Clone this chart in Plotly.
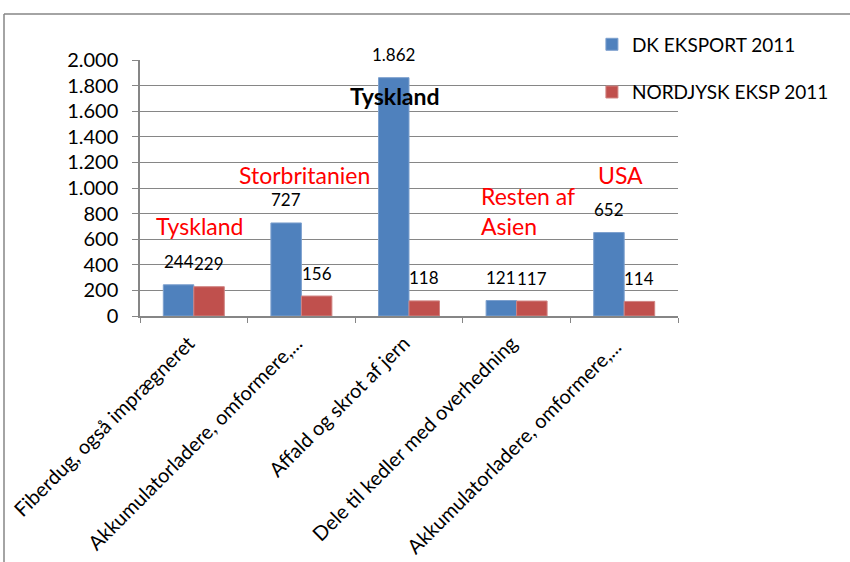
import plotly.graph_objects as go

categories = [
    "Fiberdug, også imprægneret",
    "Akkumulatorladere, omformere,...",
    "Affald og skrot af jern",
    "Dele til kedler med overhedning",
    "Akkumulatorladere, omformere,... ",
]
dk_eksport = [244, 727, 1862, 121, 652]
nordjysk_eksp = [229, 156, 118, 117, 114]
dk_labels = ["244", "727", "1.862", "121", "652"]
nj_labels = ["229", "156", "118", "117", "114"]
series_names = ["DK EKSPORT 2011", "NORDJYSK EKSP 2011"]
y_tickvals = [0, 200, 400, 600, 800, 1000, 1200, 1400, 1600, 1800, 2000]
y_ticktext = ["0", "200", "400", "600", "800", "1.000", "1.200", "1.400", "1.600", "1.800", "2.000"]
# (category, y value, text, colour, bold, horizontal pixel nudge)
country_notes = [
    (categories[0], 703, "Tyskland", "red", False, 6),
    (categories[1], 1102, "Storbritanien", "red", False, 3),
    (categories[2], 1719, "Tyskland", "black", True, -14),
    (categories[3], 820, "Resten af<br>Asien", "red", False, 11),
    (categories[4], 1102, "USA", "red", False, -4),
]

W, H = 850, 562
ML, MR, MT, MB = 140, 172, 60, 246
PW, PH = W - ML - MR, H - MT - MB
FONT = "Lato, Carlito, Calibri, sans-serif"
BLUE, RED = "#4F81BD", "#C0504D"
GRAY = "#868686"

fig = go.Figure()
fig.add_trace(go.Bar(x=categories, y=dk_eksport, name=series_names[0], marker_color=BLUE,
                     marker_line=dict(color="#7DA0CE", width=1), legendgroup="a"))
fig.add_trace(go.Bar(x=categories, y=nordjysk_eksp, name=series_names[1], marker_color=RED,
                     marker_line=dict(color="#D08483", width=1), legendgroup="b"))

bar_px = PW / len(categories) * (1 - 0.433) / 2
for cat, v, t in zip(categories, dk_eksport, dk_labels):
    fig.add_annotation(x=cat, y=v, text=t, showarrow=False, xshift=-bar_px / 2, yshift=23,
                       font=dict(family=FONT, size=17, color="black"))
for cat, v, t in zip(categories, nordjysk_eksp, nj_labels):
    fig.add_annotation(x=cat, y=v, text=t, showarrow=False, xshift=bar_px / 2, yshift=23,
                       font=dict(family=FONT, size=17, color="black"))

for cat, yv, txt, col, bold, nudge in country_notes:
    fig.add_annotation(x=cat, y=yv, text=f"<b>{txt}</b>" if bold else txt, showarrow=False,
                       align="left", xshift=nudge,
                       font=dict(family=FONT, size=23, color=col))

# chart-area border (top and left visible)
x_left = (4 - ML) / PW
y_top = (H - 14 - MB) / PH
y_bot = (0 - MB) / PH
x_right = (W - ML) / PW
fig.add_shape(type="line", xref="paper", yref="paper", x0=x_left, x1=x_right, y0=y_top, y1=y_top,
              line=dict(color=GRAY, width=1.5))
fig.add_shape(type="line", xref="paper", yref="paper", x0=x_left, x1=x_left, y0=y_top, y1=y_bot,
              line=dict(color=GRAY, width=1.5))

fig.update_layout(
    width=W, height=H, margin=dict(l=ML, r=MR, t=MT, b=MB, autoexpand=False),
    paper_bgcolor="white", plot_bgcolor="white",
    barmode="group", bargap=0.433, bargroupgap=0,
    font=dict(family=FONT, size=19, color="black"),
    showlegend=True,
    legend=dict(x=0.84, xanchor="left", y=1.135, yanchor="top", tracegroupgap=20,
                font=dict(family=FONT, size=19, color="black"), itemwidth=30,
                bgcolor="rgba(0,0,0,0)"),
    xaxis=dict(type="category", tickson="boundaries", ticks="outside", ticklen=5, tickcolor=GRAY,
               showline=True, linecolor=GRAY, linewidth=1.5, tickangle=-45, showgrid=False,
               ticklabelshift=-5, ticklabelstandoff=6,
               tickfont=dict(family=FONT, size=20, color="black")),
    yaxis=dict(range=[0, 2000], tickvals=y_tickvals, ticktext=y_ticktext, ticks="outside",
               ticklen=6, tickcolor=GRAY, showline=True, linecolor=GRAY, linewidth=1.5,
               showgrid=True, gridcolor=GRAY, gridwidth=1, zeroline=False,
               tickfont=dict(family=FONT, size=20, color="black"), ticklabelstandoff=10),
)

fig.write_html("out.html", config={"displayModeBar": False},
               post_script="document.body.style.margin='0px';")
